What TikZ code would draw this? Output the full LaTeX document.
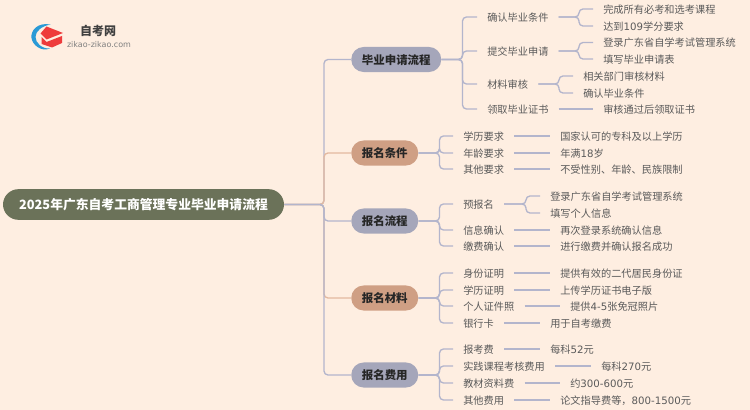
\documentclass[tikz,border=0pt]{standalone}
\usepackage{fontspec}
\setmainfont{Noto Sans CJK SC}
\newfontfamily\latn{DejaVu Sans}
\definecolor{bg}{HTML}{FEEEE1}
\definecolor{rootc}{HTML}{6B7259}
\definecolor{bluec}{HTML}{A5A6BA}
\definecolor{orangec}{HTML}{CF9F84}
\definecolor{bline}{HTML}{B3B5CC}
\definecolor{oline}{HTML}{E3B9A0}
\definecolor{txt}{HTML}{5A5A5A}
\definecolor{logob}{HTML}{2A9AD6}
\definecolor{logor}{HTML}{EE3B3B}
\tikzset{
  x=0.75pt,y=-0.75pt,
  txtnode/.style={anchor=west,inner xsep=7.5pt,inner ysep=0pt,text=txt,text height=7.4pt,text depth=0.9pt,font=\fontsize{7.65}{9}\selectfont},
  rootnode/.style={rounded corners=11.6pt,fill=rootc,text=white,minimum width=210.75pt,minimum height=23pt,inner sep=0pt,font=\fontsize{9.6}{11}\selectfont\bfseries},
  pillbase/.style={rounded corners=9.3pt,minimum height=18.8pt,inner sep=0pt,text=black!85,text height=8.4pt,text depth=1pt,font=\fontsize{8.6}{10}\selectfont\bfseries,anchor=west},
  pillb/.style={pillbase,fill=bluec},
  pillo/.style={pillbase,fill=orangec},
  conn/.style={bline,line width=1pt,rounded corners=3pt},
  conno/.style={oline,line width=1pt,rounded corners=3pt}
}
\newcommand{\lnk}[3]{\draw[conn] (#1.east) -- (#3,0 |- #1.east) |- (#2.west);}
\newcommand{\str}[2]{\draw[conn] (#1.east) -- (#2.west);}
\begin{document}
\begin{tikzpicture}
\useasboundingbox[fill=bg] (0,0) rectangle (750,410);
% logo
\fill[logob] (50.5,24.5) .. controls (37,22) and (30.5,31) .. (31.5,38) .. controls (32.5,45) and (41,52) .. (50,48.5) .. controls (42,49) and (35.5,43) .. (35.5,37) .. controls (35.5,31) and (42,26) .. (50.5,24.5) -- cycle;
\fill[logor] (46.5,26.5) -- (63,33) -- (46.5,39.5) -- (40.5,33.5) -- cycle;
\fill[logor] (41.5,37) -- (46.5,42) -- (62,36) -- (62,43) -- (52,47.5) -- (41.5,44) -- cycle;
\node[text=black!75,font=\fontsize{9}{10}\selectfont\bfseries] (logot) at (98,30.5) {自考网};
\node[text=black!50,font=\fontsize{6}{7}\selectfont\latn] (logou) at (99,44.5) {zikao-zikao.com};
% nodes
\node[rootnode] (root) at (143.5,204.5) {2025年广东自考工商管理专业毕业申请流程};
\node[pillb,minimum width=67.5pt] (A) at (351,59.5) {毕业申请流程};
\node[pillo,minimum width=50.25pt] (B) at (351,153) {报名条件};
\node[pillb,minimum width=50.25pt] (C) at (351,221) {报名流程};
\node[pillo,minimum width=50.25pt] (D) at (351,298) {报名材料};
\node[pillb,minimum width=50.25pt] (E) at (351,375) {报名费用};
% root connectors
\draw[conn] (root.east) -- (324,0 |- root.east) |- (A.west);
\draw[conno] (root.east) -- (324,0 |- root.east) |- (B.west);
\draw[conno] (root.east) -- (324,0 |- root.east) |- (D.west);
\draw[conn] (root.east) -- (324,0 |- root.east) |- (C.west);
\draw[conn] (root.east) -- (324,0 |- root.east) |- (E.west);
% A
\node[txtnode] (a1) at (477,17) {确认毕业条件};
\node[txtnode] (a2) at (477,51) {提交毕业申请};
\node[txtnode] (a3) at (477,84) {材料审核};
\node[txtnode] (a4) at (477,109) {领取毕业证书};
\node[txtnode] (a11) at (593,9) {完成所有必考和选考课程};
\node[txtnode] (a12) at (593,26) {达到{\latn 109}学分要求};
\node[txtnode] (a21) at (593,42.5) {登录广东省自学考试管理系统};
\node[txtnode] (a22) at (593,59) {填写毕业申请表};
\node[txtnode] (a31) at (573,76) {相关部门审核材料};
\node[txtnode] (a32) at (573,93) {确认毕业条件};
\node[txtnode] (a41) at (593,109) {审核通过后领取证书};
\foreach \c in {a1,a2,a3,a4} {\lnk{A}{\c}{462.5}}
\lnk{a1}{a11}{579}\lnk{a1}{a12}{579}
\lnk{a2}{a21}{579}\lnk{a2}{a22}{579}
\lnk{a3}{a31}{559}\lnk{a3}{a32}{559}
\str{a4}{a41}
% B
\node[txtnode] (b1) at (453,136) {学历要求};
\node[txtnode] (b2) at (453,153) {年龄要求};
\node[txtnode] (b3) at (453,169) {其他要求};
\node[txtnode] (b11) at (550,136) {国家认可的专科及以上学历};
\node[txtnode] (b21) at (550,153) {年满{\latn 18}岁};
\node[txtnode] (b31) at (550,169) {不受性别、年龄、民族限制};
\foreach \c in {b1,b2,b3} {\lnk{B}{\c}{439.5}}
\str{b1}{b11}\str{b2}{b21}\str{b3}{b31}
% C
\node[txtnode] (c1) at (453,204) {预报名};
\node[txtnode] (c2) at (453,230) {信息确认};
\node[txtnode] (c3) at (453,246) {缴费确认};
\node[txtnode] (c11) at (540,196) {登录广东省自学考试管理系统};
\node[txtnode] (c12) at (540,213) {填写个人信息};
\node[txtnode] (c21) at (550,230) {再次登录系统确认信息};
\node[txtnode] (c31) at (550,246) {进行缴费并确认报名成功};
\foreach \c in {c1,c2,c3} {\lnk{C}{\c}{439.5}}
\lnk{c1}{c11}{526}\lnk{c1}{c12}{526}
\str{c2}{c21}\str{c3}{c31}
% D
\node[txtnode] (d1) at (453,273) {身份证明};
\node[txtnode] (d2) at (453,290) {学历证明};
\node[txtnode] (d3) at (453,306) {个人证件照};
\node[txtnode] (d4) at (453,323) {银行卡};
\node[txtnode] (d11) at (550,273) {提供有效的二代居民身份证};
\node[txtnode] (d21) at (550,290) {上传学历证书电子版};
\node[txtnode] (d31) at (560,306) {提供{\latn 4-5}张免冠照片};
\node[txtnode] (d41) at (540,323) {用于自考缴费};
\foreach \c in {d1,d2,d3,d4} {\lnk{D}{\c}{439.5}}
\str{d1}{d11}\str{d2}{d21}\str{d3}{d31}\str{d4}{d41}
% E
\node[txtnode] (e1) at (453,349) {报考费};
\node[txtnode] (e2) at (453,366) {实践课程考核费用};
\node[txtnode] (e3) at (453,383) {教材资料费};
\node[txtnode] (e4) at (453,400) {其他费用};
\node[txtnode] (e11) at (540,349) {每科{\latn 52}元};
\node[txtnode] (e21) at (591,366) {每科{\latn 270}元};
\node[txtnode] (e31) at (560,383) {约{\latn 300-600}元};
\node[txtnode] (e41) at (550,400) {论文指导费等，{\latn 800-1500}元};
\foreach \c in {e1,e2,e3,e4} {\lnk{E}{\c}{439.5}}
\str{e1}{e11}\str{e2}{e21}\str{e3}{e31}\str{e4}{e41}
\end{tikzpicture}
\end{document}
